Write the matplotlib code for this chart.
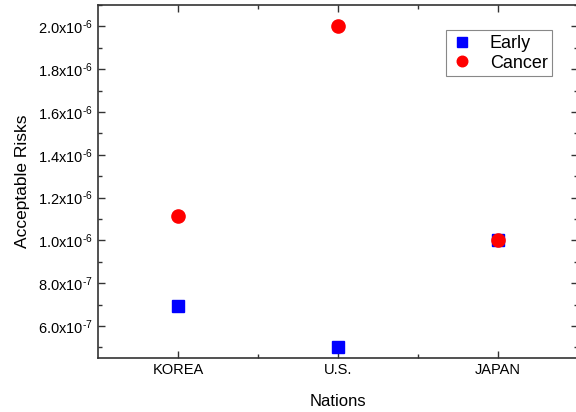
import matplotlib
matplotlib.use('Agg')
import matplotlib.pyplot as plt
from matplotlib.ticker import FixedLocator, MultipleLocator, FuncFormatter

plt.rcParams['font.family'] = ['Liberation Sans', 'DejaVu Sans']
plt.rcParams['mathtext.fontset'] = 'custom'
plt.rcParams['mathtext.rm'] = 'Liberation Sans'
plt.rcParams['mathtext.it'] = 'Liberation Sans'
plt.rcParams['axes.unicode_minus'] = False

# data
nations = ['KOREA', 'U.S.', 'JAPAN']
early = [6.95e-7, 5.0e-7, 1.0e-6]
cancer = [1.115e-6, 2.0e-6, 1.0e-6]

fig = plt.figure(figsize=(5.76, 4.12), dpi=100)
ax = fig.add_axes([0.170, 0.131, 0.834, 0.857])

x = range(1, len(nations) + 1)
ax.plot(x, early, 's', color='#0000ff', markersize=8.5, label='Early', zorder=3)
ax.plot(x, cancer, 'o', color='#ff0000', markersize=9.5, label='Cancer', zorder=4)

ax.set_xlim(0.5, 3.5)
ax.set_ylim(4.5e-7, 2.1e-6)

ax.xaxis.set_major_locator(FixedLocator(list(x)))
ax.set_xticklabels(nations)
ax.xaxis.set_minor_locator(FixedLocator([1.5, 2.5]))
ax.yaxis.set_major_locator(MultipleLocator(2e-7))
ax.yaxis.set_minor_locator(MultipleLocator(1e-7))


def sci(v, pos):
    exp = int(f'{v:.1e}'.split('e')[1])
    mant = v / 10 ** exp
    return f'{mant:.1f}x10$^{{\\text{{-}}{-exp}}}$'


ax.yaxis.set_major_formatter(FuncFormatter(sci))

ax.tick_params(which='both', direction='in', top=True, right=True,
               labelsize=10.5, color='#333333', width=1)
ax.tick_params(which='major', length=5)
ax.tick_params(which='minor', length=3)
for s in ax.spines.values():
    s.set_color('#333333')
    s.set_linewidth(1.2)

ax.set_xlabel('Nations', fontsize=12, labelpad=12)
ax.set_ylabel('Acceptable Risks', fontsize=12.5, labelpad=6)

leg = ax.legend(loc='upper right', bbox_to_anchor=(0.946, 0.928), fontsize=13,
                fancybox=False, framealpha=1, edgecolor='#888888',
                handletextpad=0.9, borderpad=0.25, labelspacing=0.15,
                handlelength=1.3, markerscale=0.8, borderaxespad=0)
leg.get_frame().set_linewidth(0.8)

fig.savefig('out.png', dpi=100)
